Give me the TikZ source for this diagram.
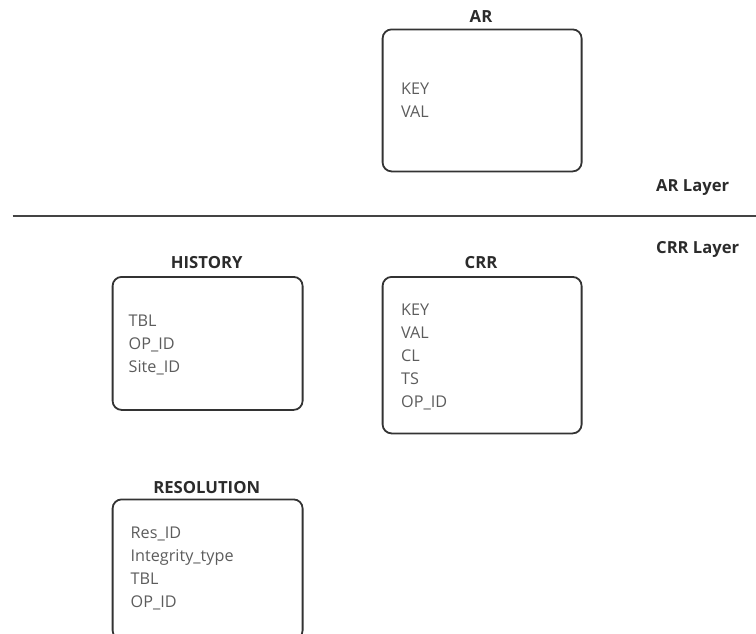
\documentclass[tikz,border=0pt]{standalone}
\usepackage{fontspec}
\setmainfont{Open Sans}
\definecolor{boxline}{HTML}{333333}
\definecolor{titletext}{HTML}{2B2B2B}
\definecolor{fieldtext}{HTML}{5C5C5C}
\definecolor{sepline}{HTML}{444444}
\begin{document}
\begin{tikzpicture}[x=1pt,y=-1pt,
  tablebox/.style={draw=boxline,line width=1.8pt,rounded corners=9pt,anchor=north west,inner sep=0pt},
  tabletitle/.style={font=\fontsize{16.7}{19}\selectfont\bfseries,text=titletext,anchor=center,inner sep=0pt},
  fields/.style={font=\fontsize{16.2}{23.2}\selectfont,text=fieldtext,anchor=north west,align=left,inner sep=0pt},
  layerlabel/.style={font=\fontsize{16.6}{19}\selectfont\bfseries,text=titletext,anchor=west,inner sep=0pt}]
\useasboundingbox (0,0) rectangle (756,633);
\clip (0,0) rectangle (756,633);
% AR
\node[tablebox,minimum width=199pt,minimum height=142pt] (arbox) at (381.7,28.5) {};
\node[tabletitle] (artitle) at (481,17) {AR};
\node[fields] (arfields) at (401,82.5) {KEY\\VAL};
% separator
\coordinate (sepL) at (12.7,215.7);
\coordinate (sepR) at (756,215.7);
\draw[sepline,line width=2pt] (sepL) -- (sepR);
\node[layerlabel] (arlayer) at (656,187.5) {AR Layer};
\node[layerlabel] (crrlayer) at (656,249) {CRR Layer};
% HISTORY
\node[tablebox,minimum width=190pt,minimum height=133pt] (histbox) at (111.7,276) {};
\node[tabletitle] (histtitle) at (206.7,262.5) {HISTORY};
\node[fields] (histfields) at (128.5,314.5) {TBL\\OP\_ID\\Site\_ID};
% CRR
\node[tablebox,minimum width=199pt,minimum height=156.5pt] (crrbox) at (381.7,276) {};
\node[tabletitle] (crrtitle) at (481,262.5) {CRR};
\node[fields] (crrfields) at (401,303.3) {KEY\\VAL\\CL\\TS\\OP\_ID};
% RESOLUTION
\node[tablebox,minimum width=190pt,minimum height=140pt] (resbox) at (111.7,498.5) {};
\node[tabletitle] (restitle) at (206.7,488) {RESOLUTION};
\node[fields] (resfields) at (130.5,526.5) {Res\_ID\\Integrity\_type\\TBL\\OP\_ID};
\end{tikzpicture}
\end{document}
